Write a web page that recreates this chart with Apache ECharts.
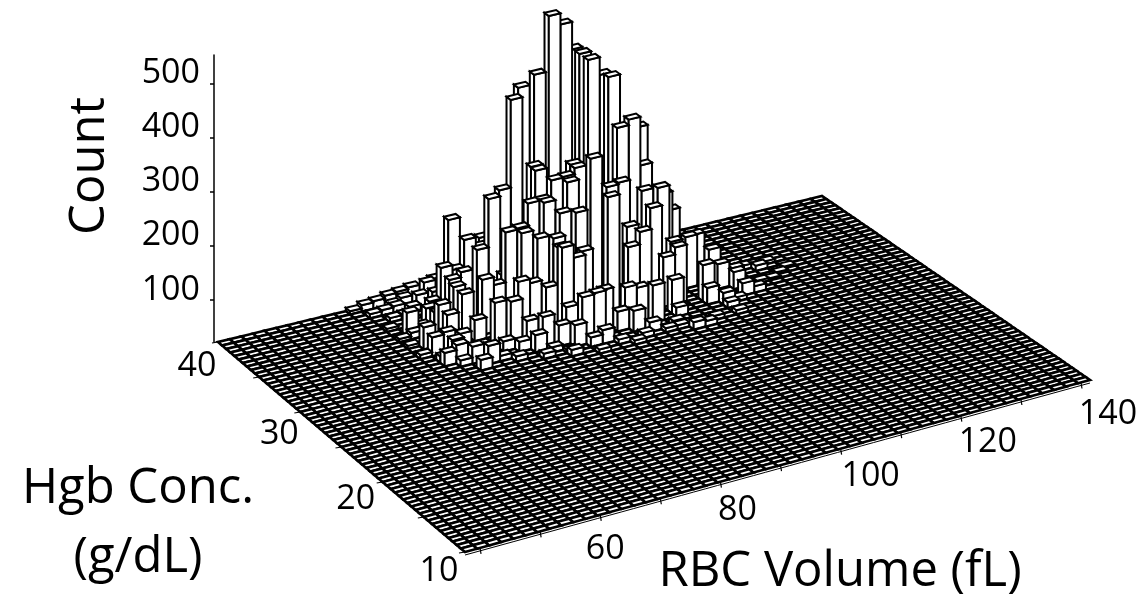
<!DOCTYPE html>
<html><head><meta charset="utf-8">
<style>html,body{margin:0;padding:0;background:#fff}#c{width:1141px;height:597px}</style>
<script src="https://cdn.jsdelivr.net/npm/echarts@6/dist/echarts.min.js"></script>
</head><body><div id="c"></div>
<script>
// ---- data ----
const volTicks = [40,50,60,70,80,90,100,110,120,130,140];
const volLabels = [60,80,100,120,140];
const hgbTicks = [10,15,20,25,30,35,40];
const hgbLabels = [10,20,30,40];
const countTicks = [100,200,300,400,500];
const volStart = 37.5, volEnd = 141.5, volBin = 2;
const hgbStart = 10, hgbEnd = 40, hgbBin = 0.5;
// bin numbers along each floor axis, and the count of each non-empty bin
const barI = [27,28,30,30,30,31,31,25,24,23,31,32,33,28,33,32,33,34,30,29,28,24,24,25,26,26,27,27,22,20,
 23,24,24,25,26,32,35,30,20,21,21,22,23,23,23,24,25,29,30,33,33,35,36,32,37,37,35,38,38,41,38,35,
 18,19,21,20,19,17,17,17,17,18,18,18,19,20,20,21,22,18,19,20,20,21,22,23,23,17,15,15,13,14,15,13,15,16,18,19,17,
 25,27,28,28,26,24,29,32,32,36,24,25,26,28,29,30,32,15,14,16,18,17,16,15,
 14,15,17,13,12,11,14,16,15,14,13,13,12,14,14,12,13,12,13,12,
 42,39,40,40,43,42,41,30,31,33,34,36,37,27,24,22,20,18,14,13,12,
 15,13,14,14,15,21,22,31,36,39,13];
const barJ = [56,56,57,59,55,53,55,54,55,54,51,51,52,49,51,48,47,49,48,48,45,51,52,50,49,50,50,51,54,51,
 50,49,50,48,47,46,50,46,47,47,46,45,44,42,43,42,43,43,43,44,43,46,47,43,46,44,42,45,43,46,41,41,
 55,54,56,54,51,49,51,52,54,54,52,47,47,48,44,44,43,44,43,40,42,41,40,39,41,46,47,50,47,45,44,42,41,40,42,41,40,
 38,40,39,37,37,38,38,40,36,39,40,40,41,41,41,40,41,58,58,59,59,56,54,52,
 59,59,58,59,59,59,57,57,56,55,57,55,57,53,51,53,50,48,45,50,
 47,46,47,43,45,44,43,37,37,36,37,37,40,36,36,37,38,39,41,43,45,
 49,51,43,42,39,39,38,38,40,41,45];
const barCount = [487,466,395,391,396,371,363,401,376,365,289,299,273,260,209,185,191,163,211,208,213,247,248,230,227,231,242,242,203,216,
 198,200,198,181,183,165,121,141,179,181,178,169,170,165,159,141,141,127,150,109,105,95,88,92,61,46,67,14,32,10,23,31,
 163,127,108,109,127,68,69,76,86,77,85,102,87,94,106,98,91,78,81,32,46,54,39,40,61,39,53,39,41,39,37,25,32,34,19,19,10,
 26,37,39,10,9,18,18,17,14,11,80,82,76,70,64,69,62,16,10,24,29,29,29,34,
 19,21,34,14,12,6,12,22,12,10,10,8,8,12,14,6,12,6,10,6,
 6,16,8,5,3,4,4,8,8,10,8,8,8,8,8,12,10,10,12,12,8,
 59,43,37,34,20,10,6,10,22,12,35];

// ---- projection of the base plane (screen corners of the floor) ----
const GRID = {left:214, top:55, width:820, height:287};
const CORNER = {nearLeft:[465,552], nearRight:[1090,380], farLeft:[218,342], farRight:[822,196]};
function plane(p){
  const u=(p[0]-GRID.left)/GRID.width, w=(GRID.top+GRID.height-p[1])/GRID.height;
  const f=k=>(1-u)*(1-w)*CORNER.nearLeft[k]+u*(1-w)*CORNER.nearRight[k]+(1-u)*w*CORNER.farLeft[k]+u*w*CORNER.farRight[k];
  return [f(0),f(1)];
}
const nVol=Math.round((volEnd-volStart)/volBin), nHgb=Math.round((hgbEnd-hgbStart)/hgbBin);
const lookup={};
barI.forEach((b,k)=>{lookup[b+'_'+barJ[k]]=barCount[k];});
const cells=[];
for(let j=nHgb-1;j>=0;j--) for(let i=nVol-1;i>=0;i--){
  cells.push([volStart+i*volBin, hgbStart+j*hgbBin, lookup[i+'_'+j]||0]);
}
const black='#000';
let chart;
function renderCell(params,api){
  const v=api.value(0),h=api.value(1),c=api.value(2);
  const A=plane(api.coord([v,h])),B=plane(api.coord([v+volBin,h])),
        C=plane(api.coord([v+volBin,h+hgbBin])),D=plane(api.coord([v,h+hgbBin]));
  const lift=c>0?(chart.convertToPixel({yAxisIndex:1},0)-chart.convertToPixel({yAxisIndex:1},c)):0;
  const up=p=>[p[0],p[1]-lift];
  const st={fill:'#fff',stroke:black,lineWidth:c>0?2:2.6,lineJoin:'miter'};
  const kids=[];
  if(c>0){
    kids.push({type:'polygon',shape:{points:[D,A,up(A),up(D)]},style:st});
    kids.push({type:'polygon',shape:{points:[A,B,up(B),up(A)]},style:st});
  }
  kids.push({type:'polygon',shape:{points:[up(A),up(B),up(C),up(D)]},style:st});
  if(h===hgbStart){
    kids.push({type:'line',shape:{x1:A[0],y1:A[1]+3,x2:B[0],y2:B[1]+3},style:{stroke:black,lineWidth:1}});
  }
  return {type:'group',children:kids};
}
const volLabelOffset={60:[5,35],80:[17,29],100:[30,28],120:[27,27],140:[27,32]};
const hgbLabelOffset={10:[-26,19],20:[-27,17],30:[-21,22],40:[-21,24]};
const tickFont='34px "Open Sans"';
function renderVolTick(params,api){
  const v=api.value(0);
  const a=plane(api.coord([v,hgbStart])),b=[a[0]+1,a[1]+6];
  const kids=[{type:'line',shape:{x1:a[0],y1:a[1],x2:b[0],y2:b[1]},style:{stroke:black,lineWidth:1.2}}];
  if(volLabels.includes(v)){const o=volLabelOffset[v];
    kids.push({type:'text',style:{text:String(v),x:a[0]+o[0],y:a[1]+o[1],align:'center',verticalAlign:'middle',font:tickFont,fill:black}});}
  return {type:'group',children:kids};
}
function renderHgbTick(params,api){
  const v=api.value(0);
  const a=plane(api.coord([volStart,v])),b=[a[0]-6,a[1]+1];
  const kids=[{type:'line',shape:{x1:a[0],y1:a[1],x2:b[0],y2:b[1]},style:{stroke:black,lineWidth:1.2}}];
  if(hgbLabels.includes(v)){const o=hgbLabelOffset[v];
    kids.push({type:'text',style:{text:String(v),x:a[0]+o[0],y:a[1]+o[1],align:'center',verticalAlign:'middle',font:tickFont,fill:black}});}
  return {type:'group',children:kids};
}
chart=echarts.init(document.getElementById('c'),null,{renderer:'canvas'});
const titleFont='49px "Open Sans"';
chart.setOption({
  animation:false,backgroundColor:'#fff',
  grid:{left:GRID.left,top:GRID.top,width:GRID.width,height:GRID.height,containLabel:false},
  xAxis:{type:'value',min:volStart,max:volEnd,show:false},
  yAxis:[
    {type:'value',min:hgbStart,max:hgbEnd,show:false},
    {type:'value',min:22,max:553,position:'left',
     axisLine:{show:true,onZero:false,lineStyle:{color:black,width:1.5}},
     axisTick:{show:true,length:4,customValues:countTicks,lineStyle:{color:black,width:1.5}},
     splitLine:{show:false},
     axisLabel:{color:black,fontSize:34,fontFamily:'Open Sans',margin:14,customValues:countTicks,verticalAlign:'bottom',lineHeight:20}}
  ],
  series:[
    {type:'custom',coordinateSystem:'cartesian2d',xAxisIndex:0,yAxisIndex:0,data:cells,renderItem:renderCell,
     progressive:0,clip:false,silent:true,encode:{x:0,y:1}},
    {type:'custom',coordinateSystem:'cartesian2d',xAxisIndex:0,yAxisIndex:0,data:hgbTicks.map(v=>[v]),renderItem:renderHgbTick,
     clip:false,silent:true,encode:{y:0}},
    {type:'custom',coordinateSystem:'cartesian2d',xAxisIndex:0,yAxisIndex:0,data:volTicks.map(v=>[v]),renderItem:renderVolTick,
     clip:false,silent:true,encode:{x:0}}
  ],
  graphic:[
    {type:'text',x:90,y:166,rotation:Math.PI/2,style:{text:'Count',font:titleFont,fill:black,align:'center',verticalAlign:'middle'}},
    {type:'text',x:138,y:489,style:{text:'Hgb Conc.',font:titleFont,fill:black,align:'center',verticalAlign:'middle'}},
    {type:'text',x:138,y:558,style:{text:'(g/dL)',font:titleFont,fill:black,align:'center',verticalAlign:'middle'}},
    {type:'text',x:840,y:572,style:{text:'RBC Volume (fL)',font:titleFont,fill:black,align:'center',verticalAlign:'middle'}}
  ]
});
</script></body></html>
